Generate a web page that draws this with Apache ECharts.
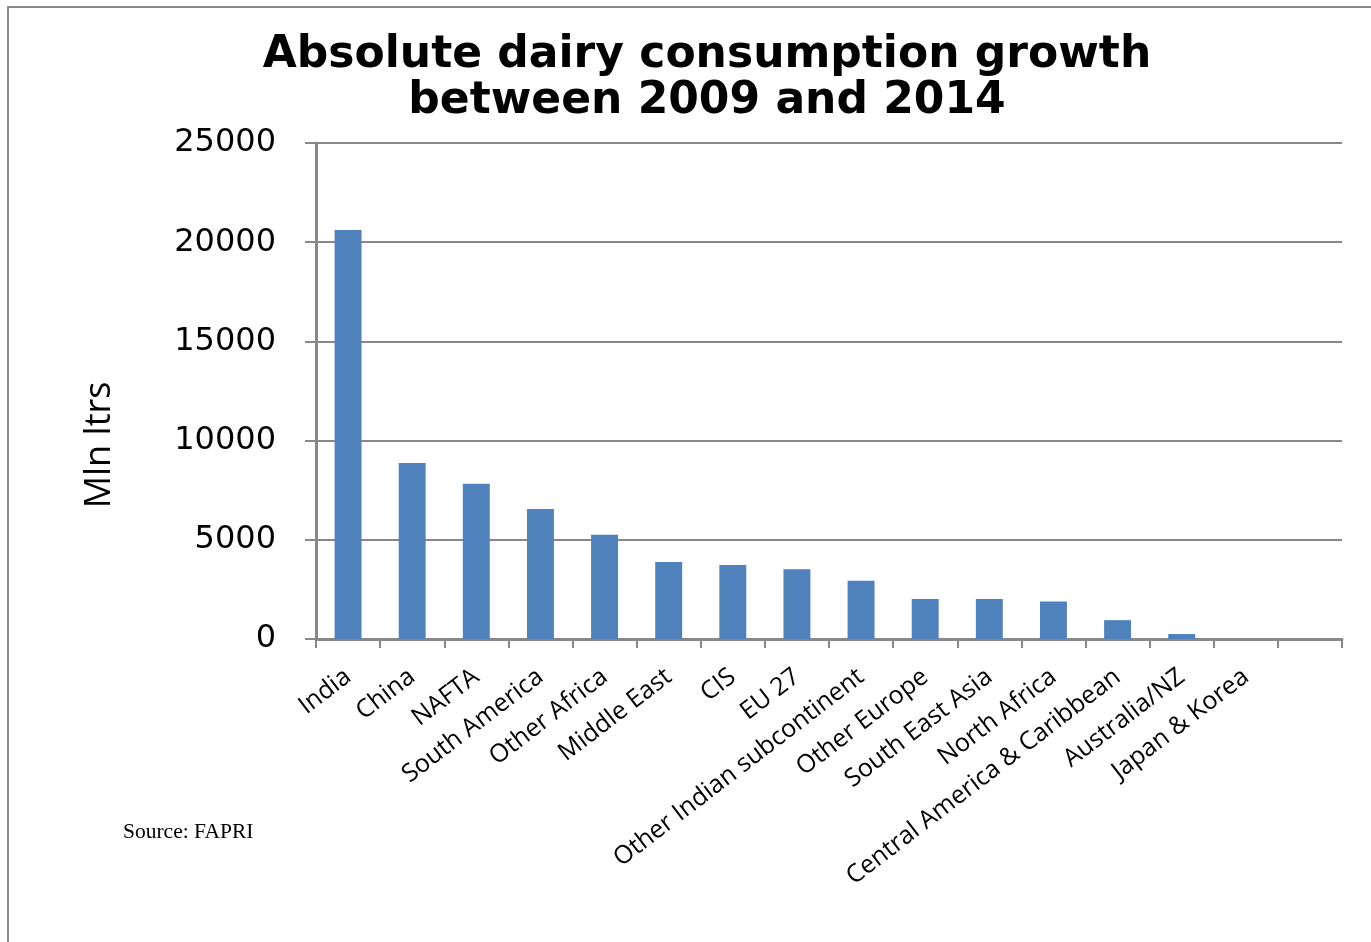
<!DOCTYPE html>
<html>
<head>
<meta charset="utf-8">
<script src="https://cdn.jsdelivr.net/npm/echarts@6/dist/echarts.min.js"></script>
<style>
html,body{margin:0;padding:0;background:#fff;}
#chart{width:1371px;height:942px;}
</style>
</head>
<body>
<div id="chart"></div>
<script>
var categories = ['India','China','NAFTA','South America','Other Africa','Middle East','CIS','EU 27','Other Indian subcontinent','Other Europe','South East Asia','North Africa','Central America & Caribbean','Australia/NZ','Japan & Korea',''];
var growth = [20620, 8870, 7820, 6550, 5250, 3880, 3730, 3520, 2940, 2010, 2010, 1890, 950, 250, 0, null];
var yTicks = [0, 5000, 10000, 15000, 20000, 25000];
var titleText = 'Absolute dairy consumption growth\nbetween 2009 and 2014';
var yName = 'Mln ltrs';
var sourceText = 'Source: FAPRI';

var chart = echarts.init(document.getElementById('chart'), null, {renderer: 'canvas'});
var option = {
  backgroundColor: '#ffffff',
  animation: false,
  title: {
    text: titleText,
    left: 702,
    top: 28,
    textAlign: 'center',
    textStyle: {
      fontFamily: 'DejaVu Sans',
      fontWeight: 'bold',
      fontSize: 44,
      lineHeight: 46,
      color: '#000'
    }
  },
  graphic: [
    {
      type: 'rect',
      shape: {x: 8, y: 7, width: 1400, height: 1000},
      style: {fill: 'none', stroke: '#8c8c8c', lineWidth: 2},
      silent: true
    },
    {
      type: 'text',
      left: 123,
      top: 821,
      style: {text: sourceText, font: '21.5px "Liberation Serif"', fill: '#000'}
    }
  ],
  grid: {left: 316, right: 29, top: 143, bottom: 303, containLabel: false},
  xAxis: {
    type: 'category',
    data: categories,
    axisLine: {lineStyle: {color: '#888888', width: 3}},
    axisTick: {show: true, length: 9, lineStyle: {color: '#888888', width: 2}},
    axisLabel: {
      interval: 0,
      rotate: 37.5,
      margin: 35,
      fontFamily: 'Open Sans',
      fontSize: 25,
      color: '#000'
    }
  },
  yAxis: {
    type: 'value',
    min: yTicks[0],
    max: yTicks[yTicks.length - 1],
    interval: 5000,
    name: yName,
    nameLocation: 'middle',
    nameGap: 198,
    nameTextStyle: {fontFamily: 'Open Sans', fontSize: 36, color: '#000', padding: [0, 108, 0, 0]},
    axisLine: {show: true, lineStyle: {color: '#888888', width: 3}},
    axisTick: {show: true, length: 11, lineStyle: {color: '#888888', width: 2}},
    axisLabel: {
      margin: 40,
      fontFamily: 'DejaVu Sans',
      fontSize: 32,
      color: '#000',
      formatter: function (v) { return String(v); }
    },
    splitLine: {show: true, lineStyle: {color: '#888888', width: 2}}
  },
  series: [{
    type: 'bar',
    data: growth,
    barWidth: '42%',
    itemStyle: {color: '#4F81BD'}
  }]
};
chart.setOption(option);
</script>
</body>
</html>
